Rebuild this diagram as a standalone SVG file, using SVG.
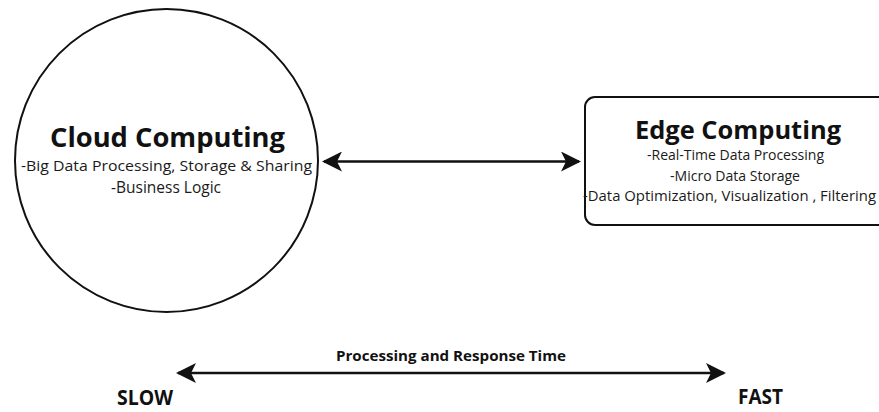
<svg xmlns="http://www.w3.org/2000/svg" width="879" height="412" viewBox="0 0 879 412">
  <style>
    .shape { fill: #ffffff; stroke: #111111; stroke-width: 2; }
    .title { font-family: "Open Sans", "Noto Sans", sans-serif; font-weight: 700; fill: #111111; text-anchor: middle; }
    .body { font-family: "Open Sans", "Noto Sans", sans-serif; font-weight: 400; fill: #1a1a1a; text-anchor: middle; }
    .scale { font-family: "Open Sans", "Noto Sans", sans-serif; font-weight: 700; fill: #111111; }
    .link { stroke: #111111; stroke-width: 2.5; fill: none; }
  </style>
  <defs>
    <!-- barbed arrowhead shared by both double-headed connectors -->
    <marker id="head" viewBox="0 0 20 20" refX="18" refY="10" markerWidth="20" markerHeight="20" markerUnits="userSpaceOnUse" orient="auto-start-reverse">
      <path d="M0,0 L20,10 L0,20 L5,10 Z" fill="#111111"/>
    </marker>
  </defs>
  <rect width="879" height="412" fill="#ffffff"/>

  <g id="cloud-computing">
    <circle class="shape" cx="166.5" cy="160.5" r="151.5"/>
    <text class="title" x="167.5" y="146.5" font-size="26.5" textLength="235" lengthAdjust="spacingAndGlyphs">Cloud Computing</text>
    <text class="body" x="166.5" y="170.5" font-size="15" textLength="291" lengthAdjust="spacingAndGlyphs">-Big Data Processing, Storage &amp; Sharing</text>
    <text class="body" x="166" y="192.5" font-size="15.5">-Business Logic</text>
  </g>

  <g id="edge-computing">
    <rect class="shape" x="585" y="97" width="310" height="128" rx="10"/>
    <text class="title" x="738" y="138.5" font-size="24.5" textLength="206" lengthAdjust="spacingAndGlyphs">Edge Computing</text>
    <text class="body" x="735.5" y="160" font-size="14" textLength="177" lengthAdjust="spacingAndGlyphs">-Real-Time Data Processing</text>
    <text class="body" x="735" y="180.5" font-size="14" textLength="130" lengthAdjust="spacingAndGlyphs">-Micro Data Storage</text>
    <text class="body" x="729.5" y="201" font-size="14" textLength="293" lengthAdjust="spacingAndGlyphs">-Data Optimization, Visualization , Filtering</text>
  </g>

  <g id="connectors">
    <line class="link" x1="324" y1="161.5" x2="579" y2="161.5" marker-start="url(#head)" marker-end="url(#head)"/>
    <line class="link" x1="178" y1="373" x2="724" y2="373" marker-start="url(#head)" marker-end="url(#head)"/>
  </g>

  <g id="response-scale">
    <text class="scale" x="451" y="361" font-size="15" text-anchor="middle" textLength="230" lengthAdjust="spacingAndGlyphs">Processing and Response Time</text>
    <text class="scale" x="117" y="405" font-size="20.5" textLength="56" lengthAdjust="spacingAndGlyphs">SLOW</text>
    <text class="scale" x="738" y="404" font-size="20.5" textLength="45" lengthAdjust="spacingAndGlyphs">FAST</text>
  </g>
</svg>
